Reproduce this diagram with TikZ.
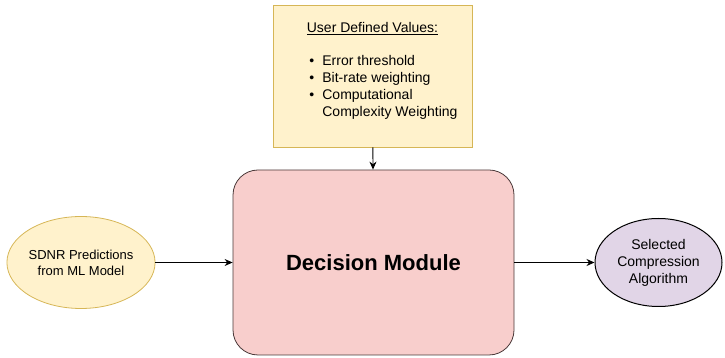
\documentclass[tikz,border=0pt]{standalone}
\usepackage{fontspec}
\setmainfont{Liberation Sans}
\usetikzlibrary{positioning,shapes.geometric,arrows.meta}

\definecolor{inputfill}{HTML}{FFF2CC}
\definecolor{inputdraw}{HTML}{D6B656}
\definecolor{modfill}{HTML}{F8CECC}
\definecolor{moddraw}{HTML}{4A3838}
\definecolor{outfill}{HTML}{E1D5E7}

\tikzset{
  valuebox/.style={draw=inputdraw, fill=inputfill, line width=0.8pt, minimum width=199pt, minimum height=142pt},
  modulebox/.style={draw=moddraw, fill=modfill, line width=0.8pt, rounded corners=25pt, minimum width=281pt, minimum height=185pt,
    font=\fontsize{22}{26}\selectfont\bfseries},
  inellipse/.style={ellipse, draw=inputdraw, fill=inputfill, line width=0.8pt, minimum width=142pt, minimum height=92pt,
    align=center, inner sep=0pt, font=\fontsize{13}{16}\selectfont},
  outellipse/.style={ellipse, draw=black, fill=outfill, line width=1pt, minimum width=127pt, minimum height=88pt,
    align=center, inner sep=0pt, font=\fontsize{14}{17}\selectfont},
  link/.style={->, line width=0.9pt},
}

\begin{document}
\begin{tikzpicture}[x=1pt, y=1pt, >={Stealth[length=8pt,width=7pt]}, font=\fontsize{14}{17}\selectfont]
  \useasboundingbox (0,0) rectangle (725,358);
  \node[valuebox] (values) at (372.5,282) {};
  \node[below=18pt of values.north, align=center, inner sep=0pt] (valuetext)
    {\underline{User Defined Values:}\\[18pt]
     \hspace*{22pt}\begin{tabular}{@{}l@{\hspace{8pt}}l@{}}
       \textbullet & Error threshold\\
       \textbullet & Bit-rate weighting\\
       \textbullet & Computational\\
                   & Complexity Weighting
     \end{tabular}};
  \node[modulebox] (decision) at (373.5,95.5) {Decision Module};
  \node[inellipse] (sdnr) at (81,95.5) {SDNR Predictions\\from ML Model};
  \node[outellipse] (selected) at (658.5,95.5) {Selected\\Compression\\Algorithm};
  \draw[link] (values) -- (decision);
  \draw[link] (sdnr) -- (decision);
  \draw[link] (decision) -- (selected);
\end{tikzpicture}
\end{document}
